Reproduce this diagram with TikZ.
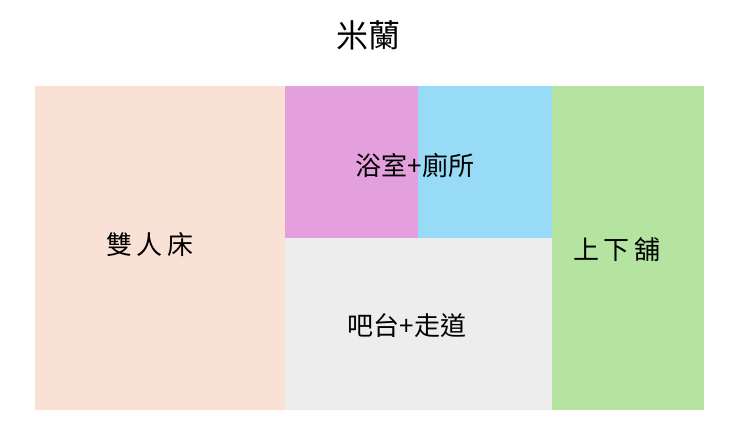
\documentclass[tikz,border=0pt]{standalone}
\usepackage{fontspec}
\newfontfamily\cjk{Noto Sans CJK TC}
\definecolor{peach}{HTML}{FAE1D5}
\definecolor{pinkr}{HTML}{E4A0DC}
\definecolor{bluer}{HTML}{97DBF7}
\definecolor{greenr}{HTML}{B4E4A0}
\definecolor{grayr}{HTML}{EDEDED}
\tikzset{
  lbl/.style={font=\cjk\fontsize{26}{30}\selectfont, text=black, inner sep=0pt},
}
\begin{document}
\begin{tikzpicture}[x=1pt,y=-1pt]
\useasboundingbox[fill=white] (0,0) rectangle (730,437);
\fill[peach] (35,86) rectangle (285,410);
\fill[pinkr] (285,86) rectangle (418,238);
\fill[bluer] (418,86) rectangle (552,238);
\fill[grayr] (285,238) rectangle (552,410);
\fill[greenr] (552,86) rectangle (704,410);
\node[font=\cjk\fontsize{32}{36}\selectfont, inner sep=0pt] (title) at (368,35) {米蘭};
\node[lbl] (bed) at (150,245) {雙\,人\,床};
\node[lbl] (bath) at (415,165) {浴室+廁所};
\node[lbl] (bar) at (407,326) {吧台+走道};
\node[lbl] (bunk) at (617,250) {上\,下\,舖};
\end{tikzpicture}
\end{document}
